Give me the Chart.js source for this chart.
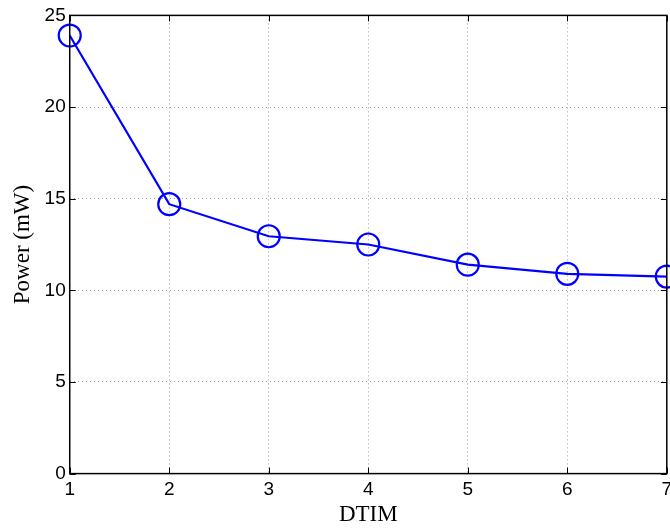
<!DOCTYPE html>
<html>
<head>
<meta charset="utf-8">
<script src="https://cdn.jsdelivr.net/npm/chart.js@4/dist/chart.umd.min.js"></script>
<style>
html,body{margin:0;padding:0;background:#fff;overflow:hidden;width:670px;height:529px;}
#wrap{position:relative;width:680px;height:529px;}
</style>
</head>
<body>
<div id="wrap"><canvas id="c" width="680" height="529"></canvas></div>
<script>
const dtim = [1, 2, 3, 4, 5, 6, 7];
const power = [23.9, 14.7, 12.95, 12.5, 11.4, 10.9, 10.75];
const xTitle = 'DTIM';
const yTitle = 'Power (mW)';
const yTicks = [0, 5, 10, 15, 20, 25];

const frame = {
  id: 'frame',
  afterDraw(chart) {
    const {ctx, chartArea: a, scales: {x, y}} = chart;
    ctx.save();
    ctx.strokeStyle = '#000';
    ctx.lineWidth = 1.5;
    ctx.strokeRect(a.left, a.top, a.right - a.left, a.bottom - a.top);
    ctx.lineWidth = 1;
    ctx.beginPath();
    dtim.forEach(v => {
      const px = Math.round(x.getPixelForValue(v)) + 0.5;
      ctx.moveTo(px, a.bottom); ctx.lineTo(px, a.bottom - 6);
      ctx.moveTo(px, a.top); ctx.lineTo(px, a.top + 6);
    });
    yTicks.forEach(v => {
      const py = Math.round(y.getPixelForValue(v)) + 0.5;
      ctx.moveTo(a.left, py); ctx.lineTo(a.left + 6, py);
      ctx.moveTo(a.right, py); ctx.lineTo(a.right - 6, py);
    });
    ctx.stroke();
    ctx.restore();
  }
};

new Chart(document.getElementById('c'), {
  type: 'line',
  data: {
    datasets: [{
      data: dtim.map((d, i) => ({x: d, y: power[i]})),
      borderColor: '#0000ff',
      borderWidth: 2.2,
      pointRadius: 11,
      pointHoverRadius: 11,
      pointBorderWidth: 2.2,
      pointBorderColor: '#0000ff',
      pointBackgroundColor: 'rgba(0,0,0,0)',
      tension: 0,
      clip: false
    }]
  },
  options: {
    responsive: false,
    animation: false,
    events: [],
    layout: {padding: {top: 5, left: 9, right: 0, bottom: 0}},
    plugins: {legend: {display: false}, tooltip: {enabled: false}},
    scales: {
      x: {
        type: 'linear', min: 1, max: 7,
        ticks: {stepSize: 1, color: '#000', font: {family: 'Liberation Sans', size: 19}, padding: 5, maxRotation: 0},
        grid: {color: '#a0a0a0', lineWidth: 1, drawTicks: false},
        border: {display: false, dash: [1, 3]},
        title: {display: true, text: xTitle, color: '#000', font: {family: 'Liberation Serif', size: 23}, padding: {top: -5, bottom: 0}}
      },
      y: {
        type: 'linear', min: 0, max: 25,
        ticks: {stepSize: 5, color: '#000', font: {family: 'Liberation Sans', size: 19}, padding: 4},
        grid: {color: '#a0a0a0', lineWidth: 1, drawTicks: false},
        border: {display: false, dash: [1, 3]},
        title: {display: true, text: yTitle, color: '#000', font: {family: 'Liberation Serif', size: 23}, padding: {top: 0, bottom: 4}}
      }
    }
  },
  plugins: [frame]
});
</script>
</body>
</html>
